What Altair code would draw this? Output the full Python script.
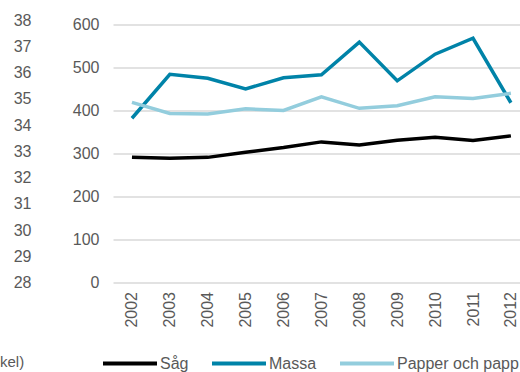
import altair as alt
import pandas as pd

years = list(range(2002, 2013))
sag = [291, 289, 291, 303, 314, 327, 320, 331, 338, 330, 341]
massa = [382, 484, 475, 450, 476, 483, 559, 469, 531, 568, 418]
papper = [419, 393, 392, 404, 400, 432, 405, 411, 432, 428, 440]
series = ["Såg", "Massa", "Papper och papp"]
colors = ["#000000", "#0083A8", "#93CDDD"]
left_ticks = list(range(28, 39))

rows = []
for name, vals in zip(series, [sag, massa, papper]):
    for y, v in zip(years, vals):
        rows.append({"År": y, "Serie": name, "Värde": v})
df = pd.DataFrame(rows)

FONT = "Arial"
LABEL = "#595959"
FS = 16

lines = alt.Chart(df).mark_line(strokeWidth=3.5, strokeCap="butt", strokeJoin="miter").encode(
    x=alt.X("År:Q",
            scale=alt.Scale(domain=[2001.5, 2012.24], nice=False, zero=False),
            axis=alt.Axis(values=years, format="d", labelAngle=270, grid=False, ticks=False,
                          domain=False, labelPadding=9, title=None, labelFontSize=FS,
                          labelColor=LABEL, labelFont=FONT)),
    y=alt.Y("Värde:Q",
            scale=alt.Scale(domain=[0, 600], nice=False),
            axis=alt.Axis(values=[0, 100, 200, 300, 400, 500, 600], orient="left", grid=True,
                          gridColor="#D9D9D9", gridWidth=1.3, ticks=False, domain=False,
                          labelPadding=14, title=None, labelFontSize=FS, labelColor=LABEL,
                          labelFont=FONT)),
    color=alt.Color("Serie:N", sort=series,
                    scale=alt.Scale(domain=series, range=colors),
                    legend=alt.Legend(orient="none", legendX=-12, legendY=310, direction="horizontal",
                                      title=None, symbolType="stroke", symbolSize=2916,
                                      symbolStrokeWidth=4, columnPadding=15, labelOffset=1,
                                      labelFontSize=FS, labelColor=LABEL, labelFont=FONT,
                                      labelLimit=300, padding=0)),
)

left_df = pd.DataFrame({"v": [28, 38]})
left_axis = alt.Chart(left_df).mark_point(opacity=0).encode(
    y=alt.Y("v:Q",
            scale=alt.Scale(domain=[28, 38], range=[258, -4.5], nice=False, zero=False),
            axis=alt.Axis(values=left_ticks, orient="left", offset=0, grid=False, ticks=False,
                          domain=False, labelPadding=82, title=None, labelFontSize=FS,
                          labelColor=LABEL, labelFont=FONT)),
)

note = alt.Chart(pd.DataFrame({"t": ["kel)"]})).mark_text(
    align="left", baseline="middle", fontSize=15, font=FONT, color=LABEL
).encode(x=alt.value(-113), y=alt.value(337), text="t:N")

chart = alt.layer(lines, left_axis, note).resolve_scale(y="independent").properties(
    width=407, height=258,
    autosize=alt.AutoSizeParams(type="none"),
    padding={"left": 113, "top": 24.5, "right": 0, "bottom": 89.5},
).configure_view(stroke=None)

chart.save("out.html", embed_options={"renderer": "svg", "actions": False})
